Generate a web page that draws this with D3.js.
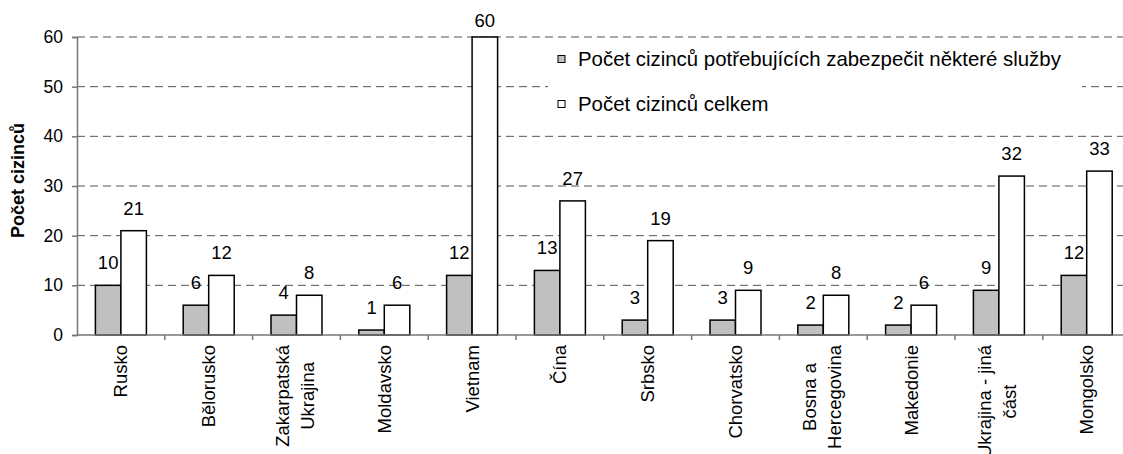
<!DOCTYPE html>
<html>
<head>
<meta charset="utf-8">
<script src="https://cdn.jsdelivr.net/npm/d3@7"></script>
<style>
  body { margin: 0; background: #fff; }
  svg { display: block; font-family: "Liberation Sans", Arial, sans-serif; }
</style>
</head>
<body>
<div id="chart"></div>
<script>
var categories = ["Rusko", "Bělorusko", "Zakarpatská|Ukrajina", "Moldavsko", "Vietnam", "Čína",
    "Srbsko", "Chorvatsko", "Bosna a|Hercegovina", "Makedonie", "Ukrajina - jiná|část", "Mongolsko"];
var needService = [10, 6, 4, 1, 12, 13, 3, 3, 2, 2, 9, 12];
var totalCount = [21, 12, 8, 6, 60, 27, 19, 9, 8, 6, 32, 33];
var seriesNames = ["Počet cizinců potřebujících zabezpečit některé služby", "Počet cizinců celkem"];
var yTicks = [0, 10, 20, 30, 40, 50, 60];

var width = 1123,
    height = 454;

var plotLeft = 77, plotTop = 37, plotBottom = 335,
    band = 87.8;

var svg = d3.select("#chart").append("svg")
    .attr("width", width)
    .attr("height", height);

var x = d3.scaleBand()
    .domain(d3.range(categories.length))
    .range([plotLeft, plotLeft + band * categories.length]);

var y = d3.scaleLinear().domain([0, 60]).range([plotBottom, plotTop]);

// gridlines
svg.append("g").selectAll("line")
    .data(yTicks.filter(function (d) { return d > 0; }))
    .enter().append("line")
    .attr("x1", plotLeft).attr("x2", plotLeft + band * categories.length)
    .attr("y1", function (d) { return y(d); })
    .attr("y2", function (d) { return y(d); })
    .attr("stroke", "#555")
    .attr("stroke-width", 1)
    .attr("stroke-dasharray", "8,5");

var series = [needService, totalCount];
var fills = ["#c0c0c0", "#ffffff"];

var bw = 25.5;

series.forEach(function (vals, s) {
    var g = svg.append("g");
    g.selectAll("rect")
        .data(vals)
        .enter().append("rect")
        .attr("x", function (d, i) { return x(i) + x.bandwidth() / 2 - bw + s * bw; })
        .attr("y", function (d) { return y(d); })
        .attr("width", bw)
        .attr("height", function (d) { return y(0) - y(d); })
        .attr("fill", fills[s])
        .attr("stroke", "#000")
        .attr("stroke-width", 1.5);

    // labels above bars, kept inside the top of the chart
    g.selectAll("text")
        .data(vals)
        .enter().append("text")
        .attr("x", function (d, i) { return x(i) + x.bandwidth() / 2 - bw / 2 + s * bw; })
        .attr("y", function (d) { return Math.max(y(d) - 16, 27); })
        .attr("text-anchor", "middle")
        .style("font-size", "18.5px")
        .text(function (d) { return d; });
});

// y axis
var yAxis = d3.axisLeft(y).tickValues(yTicks).tickSize(5).tickPadding(9);
var ga = svg.append("g").attr("transform", "translate(" + plotLeft + ",0)").call(yAxis);
ga.select(".domain").attr("stroke", "#777").attr("stroke-width", 1.5);
ga.selectAll(".tick line").attr("stroke", "#777").attr("stroke-width", 1.5);
ga.selectAll(".tick text").style("font-size", "17.5px").style("font-family", "Liberation Sans, Arial, sans-serif").attr("fill", "#000");

// x axis line and ticks between categories
svg.append("line")
    .attr("x1", plotLeft).attr("x2", plotLeft + band * categories.length)
    .attr("y1", plotBottom).attr("y2", plotBottom)
    .attr("stroke", "#777").attr("stroke-width", 1.5);

svg.append("g").selectAll("line")
    .data(d3.range(1, categories.length + 1))
    .enter().append("line")
    .attr("x1", function (d) { return plotLeft + d * band; })
    .attr("x2", function (d) { return plotLeft + d * band; })
    .attr("y1", plotBottom).attr("y2", plotBottom + 5)
    .attr("stroke", "#777").attr("stroke-width", 1.5);

// category labels, rotated
var labelTop = 345;
categories.forEach(function (c, i) {
    var lines = c.split("|");
    var cx = x(i) + x.bandwidth() / 2;
    var g = svg.append("g");
    if (lines.length === 1) {
        g.append("text")
            .attr("transform", "translate(" + cx + "," + labelTop + ") rotate(-90)")
            .attr("text-anchor", "end")
            .attr("dy", "0.35em")
            .style("font-size", "18.5px")
            .text(lines[0]);
    } else {
        var texts = lines.map(function (ln) {
            return g.append("text")
                .attr("text-anchor", "middle")
                .attr("dy", "0.35em")
                .style("font-size", "18.5px")
                .text(ln);
        });
        var maxW = d3.max(texts, function (t) { return t.node().getComputedTextLength(); });
        texts.forEach(function (t, k) {
            var lx = cx - 1.5 + (k - (lines.length - 1) / 2) * 25;
            t.attr("transform", "translate(" + lx + "," + (labelTop + maxW / 2) + ") rotate(-90)");
        });
    }
});

// y axis title
svg.append("text")
    .attr("transform", "translate(18,238) rotate(-90)")
    .attr("text-anchor", "start")
    .attr("dy", "0.35em")
    .style("font-size", "18px")
    .style("font-weight", "bold")
    .text("Počet cizinců");

// legend
var lg = svg.append("g");
lg.append("rect")
    .attr("x", 548).attr("y", 45)
    .attr("width", 534).attr("height", 80)
    .attr("fill", "#fff");

seriesNames.forEach(function (n, k) {
    var ly = 59 + k * 45;
    lg.append("rect")
        .attr("x", 558).attr("y", ly - 3.5)
        .attr("width", 7).attr("height", 7)
        .attr("fill", fills[k])
        .attr("stroke", "#000")
        .attr("stroke-width", 1);
    lg.append("text")
        .attr("x", 578).attr("y", ly)
        .attr("dy", "0.35em")
        .style("font-size", "20.4px")
        .text(n);
});
</script>
</body>
</html>
